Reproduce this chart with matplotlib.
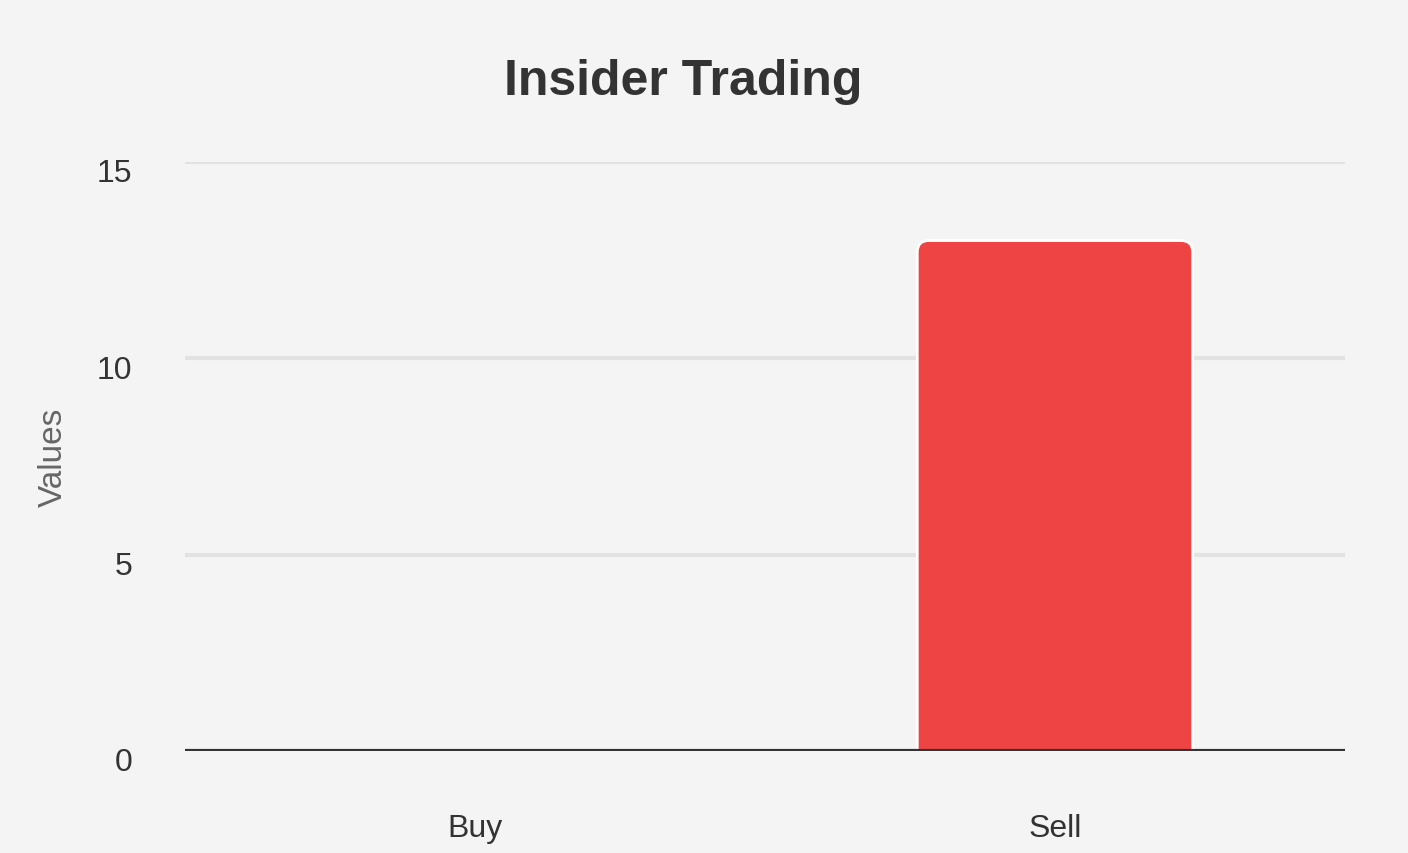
import matplotlib
matplotlib.use("Agg")
import matplotlib.pyplot as plt
from matplotlib.patches import FancyBboxPatch
from matplotlib.transforms import ScaledTranslation

categories = ["Buy", "Sell"]
values = [0, 13]
yticks = [0, 5, 10, 15]

plt.rcParams['font.family'] = ['Liberation Sans', 'DejaVu Sans']
BG = "#f4f4f4"
TXT = "#333333"

fig = plt.figure(figsize=(14.08, 8.54), dpi=100, facecolor=BG)
ax = fig.add_axes([185/1408, 1-752/854, (1345-185)/1408, (752-163)/854])
ax.set_facecolor(BG)

x = list(range(len(categories)))
bars = ax.bar(x, values, width=0.475, color="#ef4444", alpha=0)
ax.set_xlim(-0.5, len(categories)-0.5)
ax.set_ylim(0, 15)

# rounded bars with white border, built from the bar geometry
for b in bars:
    h = b.get_height()
    if h <= 0:
        continue
    p = FancyBboxPatch((b.get_x(), -1), b.get_width(), h + 1,
                       boxstyle="round,pad=0,rounding_size=0.02",
                       mutation_aspect=15 / 589 * 580,
                       facecolor="#ef4444", edgecolor="white", linewidth=2,
                       zorder=3, clip_on=True)
    ax.add_patch(p)

ax.set_yticks(yticks)
ax.set_xticks(x)
ax.set_xticklabels(categories)
ax.grid(axis='y', color="#e2e2e2", linewidth=3, zorder=0)
ax.set_axisbelow(True)
for s in ax.spines.values():
    s.set_visible(False)
ax.axhline(0, color=TXT, linewidth=3, zorder=4)
ax.tick_params(axis='both', length=0, labelsize=23, labelcolor=TXT)
ax.tick_params(axis='y', pad=38)
ax.tick_params(axis='x', pad=45)
off = ScaledTranslation(0, -8/100, fig.dpi_scale_trans)
for lbl in ax.get_yticklabels():
    lbl.set_transform(lbl.get_transform() + off)

ax.set_ylabel("Values", fontsize=24, color="#666666", labelpad=20)
ax.yaxis.label.set_position((0, (752-457)/589))
fig.text(683/1408, 1-82/854, "Insider Trading", ha="center", va="center",
         fontsize=36, fontweight="bold", color=TXT)

fig.savefig("out.png", dpi=100, facecolor=BG)
